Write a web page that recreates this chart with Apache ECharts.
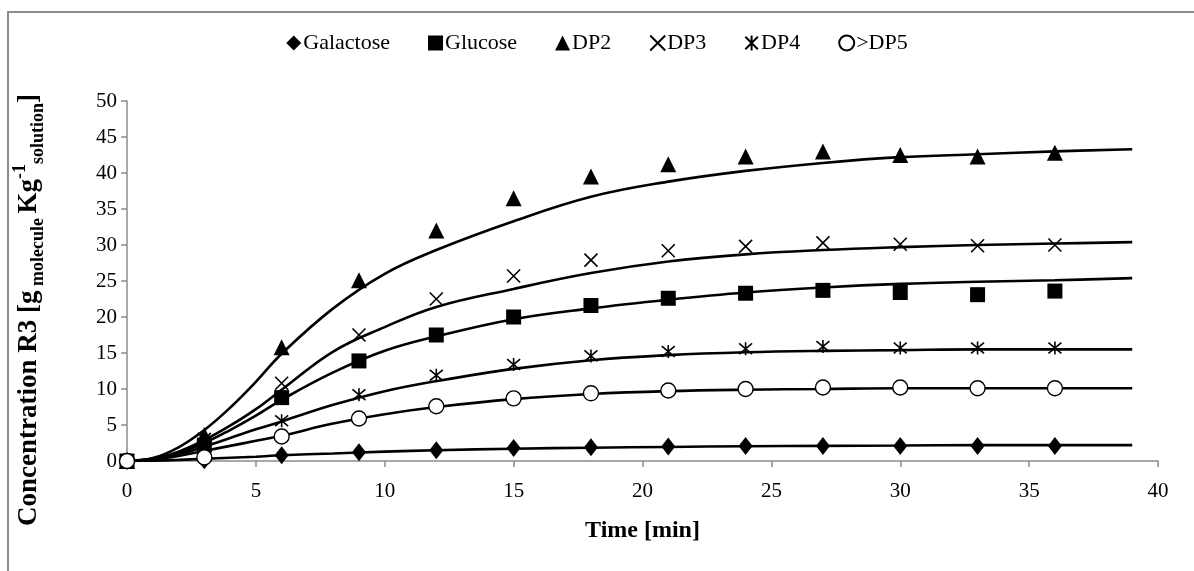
<!DOCTYPE html>
<html>
<head>
<meta charset="utf-8">
<style>
  html, body { margin: 0; padding: 0; background: #fff; }
  #chart { width: 1194px; height: 571px; }
</style>
<script src="https://cdn.jsdelivr.net/npm/echarts@6/dist/echarts.min.js"></script>
</head>
<body>
<div id="chart"></div>
<script>
// Measured concentrations (R3), sampling times in minutes
const sampleTime = [0, 3, 6, 9, 12, 15, 18, 21, 24, 27, 30, 33, 36];
const galactose = [0, 0.1, 0.8, 1.2, 1.5, 1.8, 1.9, 2.0, 2.1, 2.1, 2.1, 2.1, 2.1];
const glucose   = [0, 2.2, 8.8, 13.9, 17.5, 20.0, 21.6, 22.6, 23.3, 23.7, 23.4, 23.1, 23.6];
const dp2       = [0, 3.6, 15.8, 25.1, 32.0, 36.5, 39.5, 41.2, 42.3, 43.0, 42.5, 42.3, 42.8];
const dp3       = [0, 3.0, 10.8, 17.5, 22.5, 25.7, 27.9, 29.2, 29.8, 30.3, 30.1, 29.9, 30.0];
const dp4       = [0, 2.4, 5.6, 9.2, 11.9, 13.4, 14.6, 15.2, 15.6, 15.9, 15.7, 15.7, 15.7];
const dp5       = [0, 0.5, 3.4, 5.9, 7.6, 8.7, 9.4, 9.8, 10.0, 10.2, 10.2, 10.1, 10.1];

// Model curves, read at these times
const fitTime = [0, 1, 2, 3, 4, 5, 6, 8, 10, 12, 15, 18, 21, 24, 27, 30, 33, 36, 39];
const galactoseFit = [0, 0.05, 0.15, 0.3, 0.45, 0.6, 0.8, 1.05, 1.3, 1.5, 1.7, 1.85, 1.95, 2.05, 2.1, 2.15, 2.2, 2.2, 2.2];
const glucoseFit   = [0, 0.3, 1.1, 2.5, 4.3, 6.3, 8.5, 12.3, 15.3, 17.3, 19.7, 21.2, 22.4, 23.4, 24.1, 24.6, 24.9, 25.1, 25.4];
const dp2Fit       = [0, 0.4, 1.9, 4.3, 7.4, 11.0, 14.9, 21.2, 26.0, 29.3, 33.3, 36.7, 38.8, 40.3, 41.4, 42.2, 42.6, 43.0, 43.3];
const dp3Fit       = [0, 0.3, 1.3, 2.9, 4.9, 7.2, 9.9, 15.2, 18.6, 21.4, 23.9, 26.1, 27.7, 28.7, 29.3, 29.7, 30.0, 30.2, 30.4];
const dp4Fit       = [0, 0.2, 0.9, 2.0, 3.2, 4.4, 5.5, 7.8, 9.7, 11.1, 12.8, 14.0, 14.7, 15.1, 15.3, 15.4, 15.5, 15.5, 15.5];
const dp5Fit       = [0, 0.2, 0.7, 1.4, 2.1, 2.8, 3.5, 5.2, 6.5, 7.5, 8.6, 9.3, 9.7, 9.9, 10.0, 10.1, 10.1, 10.1, 10.1];

const xTicks = [0, 5, 10, 15, 20, 25, 30, 35, 40];

const serif = 'Liberation Serif';
const axisGray = '#8c8c8c';

const crossPath = 'path://M0,0L10,10M10,0L0,10';
const starPath = 'path://M0,0L10,10M10,0L0,10M5,-1L5,11';

const pair = (xs, ys) => xs.map((x, i) => [x, ys[i]]);

const markerSeries = [
  { name: 'Galactose', data: galactose, symbol: 'diamond', size: [14, 18], style: { color: '#000' } },
  { name: 'Glucose', data: glucose, symbol: 'rect', size: 15, style: { color: '#000' } },
  { name: 'DP2', data: dp2, symbol: 'triangle', size: 16, style: { color: '#000' } },
  { name: 'DP3', data: dp3, symbol: crossPath, size: 13, style: { color: 'rgba(0,0,0,0)', borderColor: '#000', borderWidth: 1.6 } },
  { name: 'DP4', data: dp4, symbol: starPath, size: 13, style: { color: 'rgba(0,0,0,0)', borderColor: '#000', borderWidth: 1.6 } },
  { name: '>DP5', data: dp5, symbol: 'circle', size: 15, style: { color: '#fff', borderColor: '#000', borderWidth: 1.4 } }
];

const fitSeries = [galactoseFit, glucoseFit, dp2Fit, dp3Fit, dp4Fit, dp5Fit];

const series = [];
fitSeries.forEach((ys, i) => {
  series.push({
    name: 'fit' + i,
    type: 'line',
    data: pair(fitTime, ys),
    smooth: 0.4,
    showSymbol: false,
    symbol: 'none',
    silent: true,
    z: 2,
    lineStyle: { color: '#000', width: 2.6 }
  });
});
markerSeries.forEach(m => {
  series.push({
    name: m.name,
    type: 'scatter',
    data: pair(sampleTime, m.data),
    symbol: m.symbol,
    symbolSize: m.size,
    z: 5,
    itemStyle: Object.assign({ opacity: 1 }, m.style)
  });
});

const titleRich = {
  b: { fontFamily: serif, fontSize: 27, fontWeight: 'bold', fill: '#000', lineHeight: 36, verticalAlign: 'middle' },
  sub: { fontFamily: serif, fontSize: 18, fontWeight: 'bold', fill: '#000', lineHeight: 36, verticalAlign: 'bottom' },
  sup: { fontFamily: serif, fontSize: 18, fontWeight: 'bold', fill: '#000', lineHeight: 36, verticalAlign: 'top' }
};

const chart = echarts.init(document.getElementById('chart'), null, { renderer: 'canvas' });
chart.setOption({
  animation: false,
  backgroundColor: '#fff',
  graphic: [
    {
      type: 'polyline',
      shape: { points: [[8, 571], [8, 12], [1194, 12]] },
      style: { stroke: axisGray, lineWidth: 2, fill: null },
      silent: true
    },
    {
      // vertical axis title with sub- and superscripts
      type: 'text',
      x: 29,
      y: 310,
      rotation: Math.PI / 2,
      silent: true,
      style: {
        text: '{b|Concentration R3 [g}{sub| molecule }{b|Kg}{sup|-1}{sub|solution}{b|]}',
        rich: titleRich,
        align: 'center',
        verticalAlign: 'middle'
      }
    }
  ],
  legend: {
    data: markerSeries.map(m => m.name),
    top: 27,
    left: 'center',
    itemWidth: 15,
    itemHeight: 15,
    itemGap: 38,
    textStyle: { fontFamily: serif, fontSize: 22, color: '#000', padding: [0, 0, 0, -3] }
  },
  grid: { left: 127, right: 36, top: 101, bottom: 110, containLabel: false },
  xAxis: {
    type: 'value',
    min: 0,
    max: 40,
    interval: 5,
    name: 'Time [min]',
    nameLocation: 'middle',
    nameGap: 58,
    nameTextStyle: { fontFamily: serif, fontSize: 24, fontWeight: 'bold', color: '#000' },
    axisLine: { lineStyle: { color: axisGray, width: 1.5 } },
    axisTick: { show: true, length: 6, inside: false, lineStyle: { color: axisGray, width: 1.5 } },
    axisLabel: {
      fontFamily: serif, fontSize: 21, color: '#000', margin: 20,
      formatter: v => xTicks.includes(v) ? String(v) : ''
    },
    splitLine: { show: false }
  },
  yAxis: {
    type: 'value',
    min: 0,
    max: 50,
    interval: 5,
    axisLine: { show: true, lineStyle: { color: axisGray, width: 1.5 } },
    axisTick: { show: true, length: 6, inside: false, lineStyle: { color: axisGray, width: 1.5 } },
    axisLabel: { fontFamily: serif, fontSize: 21, color: '#000', margin: 10 },
    splitLine: { show: false }
  },
  series: series
});
</script>
</body>
</html>
